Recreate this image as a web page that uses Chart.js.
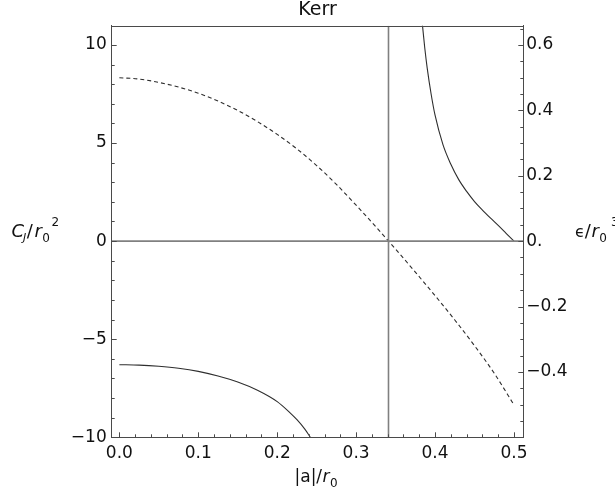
<!DOCTYPE html>
<html><head><meta charset="utf-8">
<script src="https://cdn.jsdelivr.net/npm/chart.js@4.4.0/dist/chart.umd.min.js"></script>
<style>html,body{margin:0;padding:0;background:#fff;overflow:hidden}</style>
</head><body>
<canvas id="c" width="615" height="501"></canvas>
<script>
// ---- data ----
const titleText = 'Kerr';
const xTicks = [0, 0.1, 0.2, 0.3, 0.4, 0.5];
const leftTicks = [-10, -5, 0, 5, 10];
const rightTicks = [-0.4, -0.2, 0, 0.2, 0.4, 0.6];

// dashed curve, C_J / r0^2 (left axis)
const dashedA = [0,0.025,0.05,0.075,0.1,0.125,0.15,0.175,0.2,0.225,0.25,0.275,0.3,0.325,0.35,0.375,0.4,0.425,0.45,0.475,0.5];
const dashedC = [8.33,8.26,8.09,7.85,7.54,7.14,6.66,6.09,5.44,4.70,3.85,2.89,1.83,0.73,-0.41,-1.58,-2.78,-4.02,-5.33,-6.74,-8.35];

// lower solid curve, C_J / r0^2 (left axis)
const lowerA = [0,0.025,0.05,0.075,0.1,0.125,0.15,0.175,0.2,0.215,0.225,0.235,0.242];
const lowerC = [-6.30,-6.32,-6.38,-6.48,-6.64,-6.88,-7.18,-7.60,-8.18,-8.70,-9.10,-9.58,-10.0];

// upper-right solid curve, epsilon / r0^3 (right axis)
const upperA = [0.383,0.387,0.39,0.395,0.4,0.41,0.42,0.43,0.44,0.45,0.46,0.47,0.48,0.49,0.5];
const upperE = [0.685,0.59,0.53,0.45,0.385,0.295,0.235,0.188,0.152,0.121,0.095,0.071,0.048,0.024,0];

// vertical line (|a|/r0 where C_J crosses zero)
const vLineA = [0.341];

// axis ranges
const xRange = [-0.0097, 0.5118];
const leftRange = [-10, 10.98];
const rightRange = [-0.6, 0.6588];

const FONT = '"DejaVu Sans", "Liberation Sans", sans-serif';
const TXT = '#111';
const minus = v => (v < 0 ? '\u2212' : '');
const pts = (xs, ys) => xs.map((x, i) => ({x, y: ys[i]}));

const framePlugin = {
  id: 'frame',
  afterDatasetsDraw(chart) {
    const {ctx, chartArea: ca, scales} = chart;
    const x = scales.x, yl = scales.y, yr = scales.y2;
    ctx.save();
    ctx.strokeStyle = '#4a4a4a';
    ctx.lineWidth = 1;
    ctx.beginPath();
    ctx.moveTo(ca.left, Math.round(ca.top) + 0.5);
    ctx.lineTo(ca.right, Math.round(ca.top) + 0.5);
    ctx.stroke();
    const b = ca.bottom, l = ca.left, r = ca.right;
    ctx.beginPath();
    for (let k = 0; k <= 25; k++) {
      const px = Math.round(x.getPixelForValue(k * 0.02)) + 0.5;
      const len = (k % 5 === 0) ? 5 : 3;
      ctx.moveTo(px, b); ctx.lineTo(px, b - len);
    }
    for (let k = -10; k <= 10; k++) {
      const py = Math.round(yl.getPixelForValue(k)) + 0.5;
      const len = (k % 5 === 0) ? 5 : 3;
      ctx.moveTo(l, py); ctx.lineTo(l + len, py);
    }
    for (let k = -12; k <= 13; k++) {
      const py = Math.round(yr.getPixelForValue(k * 0.05)) + 0.5;
      const len = (k % 4 === 0) ? 5 : 3;
      ctx.moveTo(r, py); ctx.lineTo(r - len, py);
    }
    ctx.stroke();

    ctx.fillStyle = TXT;
    ctx.textBaseline = 'alphabetic';
    ctx.textAlign = 'left';
    // sequential text run: [text, font, dy]
    const run = (x0, y0, parts) => {
      let xx = x0;
      for (const [t, font, dy, gap] of parts) {
        ctx.font = font;
        xx += (gap || 0);
        ctx.fillText(t, xx, y0 + (dy || 0));
        xx += ctx.measureText(t).width;
      }
    };
    // title
    ctx.font = '19px ' + FONT; ctx.textAlign = 'center';
    ctx.fillText(titleText, (ca.left + ca.right) / 2, 14.5);
    ctx.textAlign = 'left';
    // left axis title: C_J / r_0^2
    run(11.5, 237, [
      ['C', 'italic 18px ' + FONT, 0],
      ['J', 'italic 11px ' + FONT, 4, -1],
      ['/', '18px ' + FONT, 0, 0.5],
      ['r', 'italic 18px ' + FONT, 0, 1.5],
      ['0', '12px ' + FONT, 4.5, 0.5],
      ['2', '12px ' + FONT, -11, 1.5]
    ]);
    // right axis title: eps / r_0^3
    run(575, 237, [
      ['\u03f5', '16px ' + FONT, 0],
      ['/', '18px ' + FONT, 0, 0],
      ['r', 'italic 18px ' + FONT, 0, 0.5],
      ['0', '12px ' + FONT, 4.5, 0.5],
      ['3', '12px ' + FONT, -11.5, 4]
    ]);
    // bottom axis title: |a| / r_0
    run(294.5, 482, [
      ['|a|/', '17px ' + FONT, 0],
      ['r', 'italic 17px ' + FONT, 0, 0.5],
      ['0', '12px ' + FONT, 4.5, 0.5]
    ]);
    ctx.restore();
  }
};

const common = {
  pointRadius: 0, pointHoverRadius: 0, borderWidth: 1, fill: false,
  cubicInterpolationMode: 'monotone'
};

new Chart(document.getElementById('c'), {
  type: 'line',
  data: {
    datasets: [
      {...common, data: [{x: xRange[0], y: 0}, {x: xRange[1], y: 0}], yAxisID: 'y',
        borderColor: '#808080', borderWidth: 1.6, cubicInterpolationMode: 'default', tension: 0},
      {...common, data: [{x: vLineA[0], y: leftRange[0]}, {x: vLineA[0], y: leftRange[1]}], yAxisID: 'y',
        borderColor: '#808080', borderWidth: 1.6, cubicInterpolationMode: 'default', tension: 0},
      {...common, data: pts(dashedA, dashedC), yAxisID: 'y', borderColor: '#2e2e2e', borderWidth: 1.1, borderDash: [4, 3]},
      {...common, data: pts(lowerA, lowerC), yAxisID: 'y', borderColor: '#2e2e2e', borderWidth: 1.1},
      {...common, data: pts(upperA, upperE), yAxisID: 'y2', borderColor: '#2e2e2e', borderWidth: 1.1}
    ]
  },
  options: {
    responsive: false, animation: false, devicePixelRatio: 1,
    layout: {padding: {top: 25.7, left: 0, right: 0, bottom: 0}},
    plugins: {legend: {display: false}, tooltip: {enabled: false}, title: {display: false}},
    events: [],
    scales: {
      x: {
        type: 'linear', min: xRange[0], max: xRange[1],
        grid: {display: false, drawTicks: false},
        border: {display: true, color: '#4a4a4a', width: 1},
        ticks: {font: {family: FONT, size: 17}, color: TXT, padding: 6, maxRotation: 0, autoSkip: false,
          callback: v => v.toFixed(1)},
        afterBuildTicks: s => { s.ticks = xTicks.map(v => ({value: v})); },
        afterFit: s => { s.height = 63.7; }
      },
      y: {
        type: 'linear', position: 'left', min: leftRange[0], max: leftRange[1],
        grid: {display: false, drawTicks: false},
        border: {display: true, color: '#4a4a4a', width: 1},
        ticks: {font: {family: FONT, size: 17}, color: TXT, padding: 5, autoSkip: false,
          callback: v => minus(v) + Math.abs(v)},
        afterBuildTicks: s => { s.ticks = leftTicks.map(v => ({value: v})); },
        afterFit: s => { s.width = 111.7; }
      },
      y2: {
        type: 'linear', position: 'right', min: rightRange[0], max: rightRange[1],
        grid: {display: false, drawTicks: false},
        border: {display: true, color: '#4a4a4a', width: 1},
        ticks: {font: {family: FONT, size: 17}, color: TXT, padding: 3, autoSkip: false,
          callback: v => v === 0 ? '0.' : minus(v) + Math.abs(v).toFixed(1)},
        afterBuildTicks: s => { s.ticks = rightTicks.map(v => ({value: v})); },
        afterFit: s => { s.width = 91.7; }
      }
    }
  },
  plugins: [framePlugin]
});
</script>
</body></html>
